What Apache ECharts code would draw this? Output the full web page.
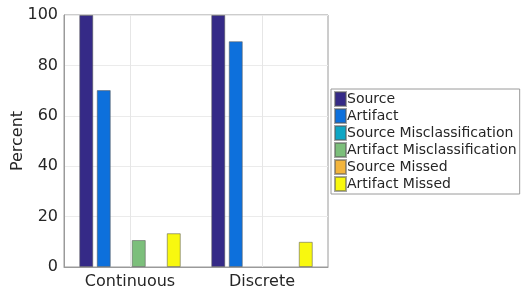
<!DOCTYPE html>
<html>
<head>
<meta charset="utf-8">
<script src="https://cdn.jsdelivr.net/npm/echarts@6/dist/echarts.min.js"></script>
<style>
html, body { margin: 0; padding: 0; background: #fff; }
#chart { width: 523px; height: 289px; }
</style>
</head>
<body>
<div id="chart"></div>
<script>
// data
const categories = ['Continuous', 'Discrete']
const seriesNames = ['Source', 'Artifact', 'Source Misclassification', 'Artifact Misclassification', 'Source Missed', 'Artifact Missed']
const sourceVals = [100, 100]
const artifactVals = [70.2, 89.6]
const sourceMisclassVals = [0, 0]
const artifactMisclassVals = [10.7, 0]
const sourceMissedVals = [0, 0]
const artifactMissedVals = [13.4, 10.0]
const yTicks = [0, 20, 40, 60, 80, 100]

const colors = ['#352a87', '#0d70dc', '#0ea6c4', '#7cbf7b', '#f3b53d', '#f8f80f']
const allVals = [sourceVals, artifactVals, sourceMisclassVals, artifactMisclassVals, sourceMissedVals, artifactMissedVals]

const font = 'DejaVu Sans'
const textColor = '#262626'

let series = []
allVals.forEach((v, i) => {
    series.push({
        name: seriesNames[i],
        type: 'bar',
        data: v.map(x => x === 0 ? null : x),
        barWidth: 14,
        barGap: '25%',
        z: 3,
        itemStyle: {
            color: colors[i],
            borderColor: 'rgba(90,90,90,0.55)',
            borderWidth: 1
        }
    })
})
// vertical grid lines at category centres (empty helper series)
series.push({
    name: 'grid-x',
    type: 'line',
    data: [],
    z: 1,
    silent: true,
    markLine: {
        silent: true,
        symbol: 'none',
        label: { show: false },
        lineStyle: { color: '#e6e6e6', type: 'solid', width: 1 },
        data: categories.map(c => ({ xAxis: c }))
    }
})

let myChart = echarts.init(document.getElementById('chart'), null, { renderer: 'canvas' })
let option = {
    animation: false,
    backgroundColor: '#fff',
    color: colors,
    grid: {
        left: 64,
        right: 195,
        top: 15,
        bottom: 22,
        outerBoundsMode: 'none',
        containLabel: false,
        show: true,
        borderColor: '#9a9a9a',
        borderWidth: 1,
        backgroundColor: 'transparent'
    },
    legend: {
        orient: 'vertical',
        left: 331,
        top: 89,
        itemWidth: 11,
        itemHeight: 14,
        itemGap: 1,
        padding: [2, 3, 2, 3],
        borderColor: '#9a9a9a',
        borderWidth: 1,
        backgroundColor: '#fff',
        icon: 'rect',
        textStyle: { fontFamily: font, fontSize: 14, color: textColor, padding: [0, 0, 0, -4] },
        data: seriesNames
    },
    xAxis: {
        type: 'category',
        data: categories,
        axisLine: { show: true, lineStyle: { color: '#9a9a9a' } },
        axisTick: { show: false },
        axisLabel: { fontFamily: font, fontSize: 16, color: textColor, margin: 7 },
        splitLine: { show: false }
    },
    yAxis: {
        type: 'value',
        min: yTicks[0],
        max: yTicks[yTicks.length - 1],
        interval: 20,
        name: 'Percent',
        nameLocation: 'middle',
        nameGap: 38,
        nameMoveOverlap: false,
        nameTextStyle: { fontFamily: font, fontSize: 16, color: textColor },
        axisLine: { show: true, lineStyle: { color: '#9a9a9a' } },
        axisTick: { show: false },
        axisLabel: { fontFamily: font, fontSize: 16, color: textColor, margin: 6 },
        splitLine: { show: true, lineStyle: { color: '#ebebeb' } }
    },
    series: series
}
myChart.setOption(option)
</script>
</body>
</html>
